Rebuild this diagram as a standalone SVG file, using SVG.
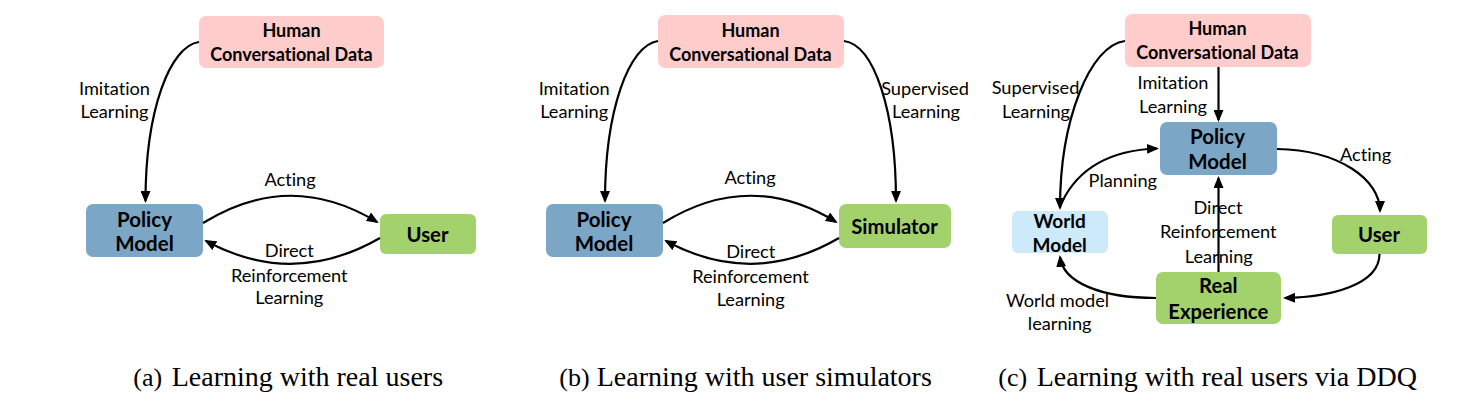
<svg xmlns="http://www.w3.org/2000/svg" width="1474" height="404" viewBox="0 0 1474 404">
<style>
.bg{fill:#ffffff}
.human{fill:#ffcccc}
.policy{fill:#7ba6c6}
.green{fill:#a3d16b}
.world{fill:#cdeafb}
.nt{font-family:Lato,"Liberation Sans",sans-serif;font-weight:bold;fill:#000;text-anchor:middle;font-variant-ligatures:none}
.lb{font-family:Lato,"Liberation Sans",sans-serif;font-size:18.2px;fill:#000;text-anchor:middle;font-variant-ligatures:none}
.cap{font-family:"Liberation Serif","Times New Roman",serif;font-size:28px;fill:#000}
.capn{font-family:"Liberation Serif","Times New Roman",serif;font-size:26px;fill:#000}
.ed{fill:none;stroke:#000;stroke-width:2.2}
</style>
<defs>
<marker id="ah" viewBox="0 0 12 10" refX="10" refY="5" markerWidth="12" markerHeight="10" markerUnits="userSpaceOnUse" orient="auto">
<path d="M0,0 L12,5 L0,10 Z" fill="#000"/>
</marker>
</defs>
<rect class="bg" x="0" y="0" width="1474" height="404"/>

<!-- Panel (a) -->
<g id="a-human">
<rect class="human" x="199" y="16" width="185" height="52" rx="7"/>
<text class="nt" x="291.5" y="37.3" font-size="18">Human</text>
<text class="nt" x="291.5" y="61" font-size="18">Conversational Data</text>
</g>
<g id="a-policy">
<rect class="policy" x="86" y="204" width="117" height="53" rx="7"/>
<text class="nt" x="144.5" y="226.5" font-size="20.5">Policy</text>
<text class="nt" x="144.5" y="250.5" font-size="20.5">Model</text>
</g>
<g id="a-user">
<rect class="green" x="380" y="214" width="96" height="40" rx="6"/>
<text class="nt" x="427.5" y="242" font-size="20.3">User</text>
</g>

<!-- Panel (b) -->
<g id="b-human">
<rect class="human" x="658" y="15" width="186" height="53" rx="7"/>
<text class="nt" x="750.5" y="36.7" font-size="18">Human</text>
<text class="nt" x="750.5" y="60.5" font-size="18">Conversational Data</text>
</g>
<g id="b-policy">
<rect class="policy" x="546" y="204" width="117" height="53" rx="7"/>
<text class="nt" x="604" y="226.5" font-size="20.5">Policy</text>
<text class="nt" x="604" y="250.5" font-size="20.5">Model</text>
</g>
<g id="b-simulator">
<rect class="green" x="839" y="204" width="112" height="44" rx="7"/>
<text class="nt" x="894.5" y="234.3" font-size="20.3">Simulator</text>
</g>

<!-- Panel (c) -->
<g id="c-human">
<rect class="human" x="1125" y="14" width="186" height="53" rx="7"/>
<text class="nt" x="1217.5" y="35.3" font-size="18">Human</text>
<text class="nt" x="1217.5" y="59.3" font-size="18">Conversational Data</text>
</g>
<g id="c-policy">
<rect class="policy" x="1160" y="122" width="117" height="53" rx="7"/>
<text class="nt" x="1217.5" y="144.3" font-size="20.5">Policy</text>
<text class="nt" x="1217.5" y="169.3" font-size="20.5">Model</text>
</g>
<g id="c-world">
<rect class="world" x="1012" y="211" width="96" height="42" rx="6"/>
<text class="nt" x="1059.7" y="227.7" font-size="19">World</text>
<text class="nt" x="1059.7" y="251.7" font-size="19">Model</text>
</g>
<g id="c-user">
<rect class="green" x="1332" y="215" width="95" height="39" rx="6"/>
<text class="nt" x="1379" y="242.3" font-size="20.3">User</text>
</g>
<g id="c-real">
<rect class="green" x="1156" y="272" width="125" height="52" rx="7"/>
<text class="nt" x="1218.3" y="293.3" font-size="20.3">Real</text>
<text class="nt" x="1218.3" y="319.3" font-size="20.3">Experience</text>
</g>

<g id="connectors">
<!-- a -->
<path class="ed" d="M199,42 C170,46 145.5,110 145.5,201" marker-end="url(#ah)"/>
<path class="ed" d="M203,223 Q290,169 377,222" marker-end="url(#ah)"/>
<path class="ed" d="M380,238 Q293,288 206,241" marker-end="url(#ah)"/>
<!-- b -->
<path class="ed" d="M658,41 C629,45 605,110 605,201" marker-end="url(#ah)"/>
<path class="ed" d="M844,41 C874,45 896,110 896,201" marker-end="url(#ah)"/>
<path class="ed" d="M663,223 Q750,169 836,222" marker-end="url(#ah)"/>
<path class="ed" d="M839,238 Q753,288 666,241" marker-end="url(#ah)"/>
<!-- c -->
<path class="ed" d="M1218.5,67 L1218.5,120" marker-end="url(#ah)"/>
<path class="ed" d="M1125,41 C1090,45 1060,120 1060,208" marker-end="url(#ah)"/>
<path class="ed" d="M1062,202 C1080,165 1115,150 1157,148.5" marker-end="url(#ah)"/>
<path class="ed" d="M1277,149 C1340,150 1380,180 1380,211" marker-end="url(#ah)"/>
<path class="ed" d="M1379.5,254 C1379.5,285 1330,297 1285,298" marker-end="url(#ah)"/>
<path class="ed" d="M1218.5,272 L1218.5,178" marker-end="url(#ah)"/>
<path class="ed" d="M1156,298 C1100,298 1063,282 1060,257" marker-end="url(#ah)"/>
</g>

<g id="labels">
<text class="lb" x="114.5" y="95">Imitation</text>
<text class="lb" x="114.5" y="117.7">Learning</text>
<text class="lb" x="290" y="186">Acting</text>
<text class="lb" x="289.3" y="257">Direct</text>
<text class="lb" x="289.3" y="281.5">Reinforcement</text>
<text class="lb" x="289.3" y="304.3">Learning</text>

<text class="lb" x="574.2" y="95">Imitation</text>
<text class="lb" x="574.2" y="118">Learning</text>
<text class="lb" x="925" y="94.5">Supervised</text>
<text class="lb" x="926" y="118.3">Learning</text>
<text class="lb" x="750" y="184.3">Acting</text>
<text class="lb" x="750.7" y="258.3">Direct</text>
<text class="lb" x="750.5" y="282.7">Reinforcement</text>
<text class="lb" x="750.7" y="305.7">Learning</text>

<text class="lb" x="1173" y="89.3">Imitation</text>
<text class="lb" x="1173" y="113.3">Learning</text>
<text class="lb" x="1035.5" y="94">Supervised</text>
<text class="lb" x="1036" y="118.3">Learning</text>
<text class="lb" x="1122.8" y="187.3">Planning</text>
<text class="lb" x="1365.5" y="160.7">Acting</text>
<text class="lb" x="1218" y="214.3">Direct</text>
<text class="lb" x="1218.3" y="238.3">Reinforcement</text>
<text class="lb" x="1218.8" y="262.7">Learning</text>
<text class="lb" x="1057.5" y="307.3">World model</text>
<text class="lb" x="1059.7" y="330">learning</text>
</g>

<g id="captions">
<text class="capn" x="133.3" y="386">(a)</text>
<text class="cap" x="171.7" y="386">Learning with real users</text>
<text class="capn" x="559.3" y="386">(b)</text>
<text class="cap" x="596.7" y="386">Learning with user simulators</text>
<text class="capn" x="998.3" y="386">(c)</text>
<text class="cap" x="1036.7" y="386">Learning with real users via DDQ</text>
</g>
</svg>
